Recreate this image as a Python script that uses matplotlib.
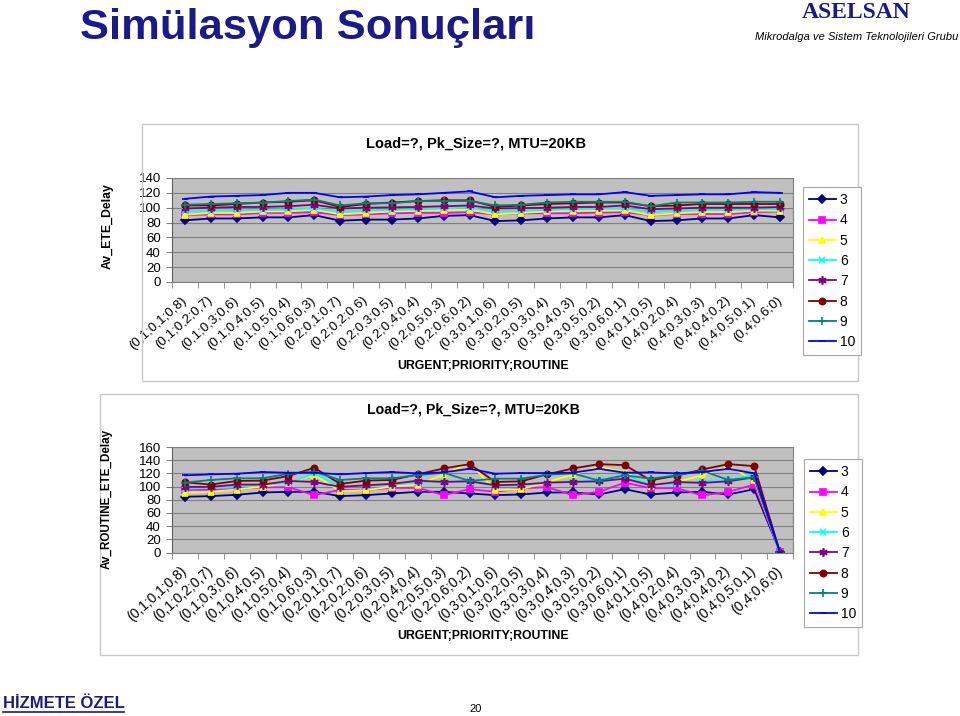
import matplotlib
matplotlib.use("Agg")
import matplotlib.pyplot as plt
from matplotlib.lines import Line2D
from matplotlib.patches import Rectangle

plt.rcParams['font.family'] = ['Liberation Sans', 'DejaVu Sans']

W, H = 960, 716

categories = ["(0,1;0,1;0,8)", "(0,1;0,2;0,7)", "(0,1;0,3;0,6)", "(0,1;0,4;0,5)",
              "(0,1;0,5;0,4)", "(0,1;0,6;0,3)", "(0,2;0,1;0,7)", "(0,2;0,2;0,6)",
              "(0,2;0,3;0,5)", "(0,2;0,4;0,4)", "(0,2;0,5;0,3)", "(0,2;0,6;0,2)",
              "(0,3;0,1;0,6)", "(0,3;0,2;0,5)", "(0,3;0,3;0,4)", "(0,3;0,4;0,3)",
              "(0,3;0,5;0,2)", "(0,3;0,6;0,1)", "(0,4;0,1;0,5)", "(0,4;0,2;0,4)",
              "(0,4;0,3;0,3)", "(0,4;0,4;0,2)", "(0,4;0,5;0,1)", "(0,4;0,6;0)"]

series_names = ["3", "4", "5", "6", "7", "8", "9", "10"]

# Top chart: Av_ETE_Delay
top_s3 = [83, 85.5, 85.5, 87, 87, 90, 82.5, 84, 84, 85.5, 89, 90, 82, 83, 85.5, 87, 87, 90, 82, 83, 85.5, 85.5, 90, 87]
top_s4 = [90, 91, 91, 93, 93, 94, 90, 91, 92.5, 93, 93, 94, 91, 92.5, 92.5, 92.5, 93.5, 94, 90, 91.5, 91.5, 91.5, 94, 95]
top_s5 = [90.5, 93, 93, 95, 95, 97.5, 91, 93, 95, 96, 96.5, 97.5, 91, 93, 95, 96, 96, 96.5, 90, 92.5, 94, 94, 96, 96]
top_s6 = [95, 96, 96.5, 97, 98, 99, 95, 96.5, 97, 98, 99, 100, 95, 96, 97, 98, 99, 99, 95, 96, 97, 97, 98, 98]
top_s7 = [99, 100, 101, 101, 102, 104, 99, 100, 100.5, 101, 102, 103, 99, 99.5, 100, 101, 101, 103, 98, 99, 100, 100, 100, 101]
top_s8 = [103, 103, 105, 107, 108, 110, 101, 105, 107, 109, 110, 110, 101, 103, 105, 106, 107, 107, 102, 103, 105, 105, 105, 105]
top_s9 = [104, 105, 106, 107, 109, 111, 103, 106, 106, 109, 109, 109, 103, 104, 107, 108, 108, 108, 102, 107, 107, 107, 108, 108]
top_s10 = [112, 115, 116, 117, 120, 120, 114, 115, 117, 118, 120, 122, 114, 116, 117, 118, 118, 121, 116, 117, 118, 118, 121, 120]

# Bottom chart: Av_ROUTINE_ETE_Delay
bot_s3 = [84.5, 85.5, 87.5, 91, 92, 92, 85.5, 87, 89.5, 92, 92, 89.5, 87, 88, 91, 91, 88, 96, 88, 91, 92, 88, 96, 1]
bot_s4 = [95, 95, 96, 99, 99, 87, 95, 95, 98, 98, 87, 96, 92, 97.5, 99, 87, 92, 106, 97.5, 97.5, 86.5, 92, 103, 1]
bot_s5 = [90.5, 92, 95.5, 100, 105, 118, 93, 94.5, 100, 103, 118, 136, 94.5, 96, 107, 118, 130, 122, 101, 107, 117, 131, 110, 0]
bot_s6 = [97, 98, 100, 103, 105, 120, 100, 101, 103, 106, 108, 108, 101, 102, 106, 108, 110, 118, 103, 104, 108, 110, 118, 0]
bot_s7 = [99.5, 99.5, 103, 103, 108.5, 107, 99.5, 102, 104, 109, 107, 108, 102, 103, 106, 107, 108, 112, 102, 107, 105.5, 108, 114, 0]
bot_s8 = [106.5, 103, 108.5, 109, 116, 128.5, 104, 109, 110, 118.5, 127.5, 134, 107, 108, 118.5, 127.5, 134, 132.5, 109.5, 116.5, 126, 134, 131, 0]
bot_s9 = [106, 110, 112.5, 112.5, 119.5, 122.5, 110, 112.5, 112.5, 117.5, 121, 108.5, 112, 112, 118, 120, 109, 117, 112, 117, 124, 110, 114, 0]
bot_s10 = [117, 118.5, 119.5, 122, 121, 121, 118.5, 120.5, 122, 120, 121.5, 127, 119.5, 120.5, 120.5, 121, 127, 121, 121.5, 120, 122, 127, 120, 0]

top_data = [top_s3, top_s4, top_s5, top_s6, top_s7, top_s8, top_s9, top_s10]
bot_data = [bot_s3, bot_s4, bot_s5, bot_s6, bot_s7, bot_s8, bot_s9, bot_s10]

colors = ['#000080', '#FF00FF', '#FFFF00', '#00FFFF', '#800080', '#800000', '#008080', '#0000FF']
markers = ['D', 's', '^', 'x', (6, 2, 0), 'o', '+', '_']
msizes = [4.5, 4.5, 5, 5, 6, 4.5, 6, 5]

NAVY = '#1a1a8a'

fig = plt.figure(figsize=(W / 100, H / 100), dpi=100)
fig.patch.set_facecolor('white')


def fx(px):
    return px / W


def fy(py):
    return 1 - py / H


def rect(x0, y0, x1, y1):
    return [fx(x0), fy(y1), fx(x1) - fx(x0), fy(y0) - fy(y1)]


# chart-area frames
for (x0, y0, x1, y1) in [(142, 124, 858, 381), (100, 394, 858, 655)]:
    fig.patches.append(Rectangle((fx(x0), fy(y1)), fx(x1) - fx(x0), fy(y0) - fy(y1),
                                 transform=fig.transFigure, fill=False,
                                 edgecolor='#c8c8c8', linewidth=1.0))


def make_chart(axrect, data, ymax, legend_box, title_xy, title_fs, xlabel_xy,
               ylabel, ylabel_xy, ylabel_fs, cat_fs):
    ax = fig.add_axes(axrect)
    ax.set_facecolor('#C0C0C0')
    x = list(range(len(categories)))
    handles = []
    for vals, name, c, m, ms in zip(data, series_names, colors, markers, msizes):
        h, = ax.plot(x, vals, color=c, marker=m, markersize=ms, markerfacecolor=c,
                     markeredgecolor=c, markeredgewidth=1.2, linewidth=1.3, label=name)
        handles.append(h)
    ax.set_xlim(-0.5, len(categories) - 0.5)
    ax.set_ylim(0, ymax)
    ax.set_yticks(range(0, ymax + 1, 20))
    ax.yaxis.grid(True, color='#808080', linewidth=0.8)
    ax.set_axisbelow(True)
    ax.tick_params(axis='y', labelsize=9.5, length=4, color='#808080', pad=4)
    ax.set_xticks(x)
    ax.set_xticklabels(categories, rotation=42, ha='right', va='center',
                       rotation_mode='anchor', fontsize=cat_fs)
    ax.tick_params(axis='x', which='major', length=0, pad=12)
    ax.set_xticks([i - 0.5 for i in range(len(categories) + 1)], minor=True)
    ax.tick_params(axis='x', which='minor', length=4, color='#808080')
    for s in ax.spines.values():
        s.set_color('#808080')
        s.set_linewidth(0.8)
    ax.spines['left'].set_color('#606060')
    # legend
    lx0, ly0, lx1, ly1 = legend_box
    leg = fig.legend(handles=handles, loc='upper left',
                     bbox_to_anchor=(fx(lx0), fy(ly0)), borderaxespad=0,
                     fontsize=10, labelspacing=0.45, handlelength=1.9,
                     handletextpad=0.3, borderpad=0.45, frameon=True, fancybox=False)
    leg.get_frame().set_edgecolor('#909090')
    leg.get_frame().set_linewidth(0.8)
    fig.text(fx(title_xy[0]), fy(title_xy[1]), "Load=?, Pk_Size=?, MTU=20KB",
             ha='center', va='center', fontsize=title_fs, fontweight='bold')
    fig.text(fx(xlabel_xy[0]), fy(xlabel_xy[1]), "URGENT;PRIORITY;ROUTINE",
             ha='center', va='center', fontsize=8.8, fontweight='bold')
    fig.text(fx(ylabel_xy[0]), fy(ylabel_xy[1]), ylabel, rotation=90,
             ha='center', va='center', fontsize=ylabel_fs, fontweight='bold')
    return ax


make_chart(rect(172, 178, 793, 282), top_data, 140, (803, 187, 859, 353),
           (476, 143), 10.5, (483, 366), "Av_ETE_Delay", (108, 226), 8.8, 9.6)
make_chart(rect(172, 447, 793, 552.5), bot_data, 160, (804, 459, 859, 623),
           (473, 410), 10.2, (483, 636), "Av_ROUTINE_ETE_Delay", (107, 499), 8.4, 10.0)

# Slide header / footer
fig.text(fx(80), fy(28), "Simülasyon Sonuçları", ha='left', va='center',
         fontsize=31.3, fontweight='bold', color=NAVY)
fig.text(fx(856), fy(13), "ASELSAN", ha='center', va='center', fontsize=17,
         fontweight='bold', color=NAVY, family=['Liberation Serif', 'DejaVu Serif'])
fig.text(fx(958), fy(37), "Mikrodalga ve Sistem Teknolojileri Grubu", ha='right',
         va='center', fontsize=8, style='italic', color='black')
fig.text(fx(3), fy(703), "HİZMETE ÖZEL", ha='left', va='center', fontsize=12,
         fontweight='bold', color=NAVY)
fig.lines.append(Line2D([fx(3), fx(124)], [fy(712), fy(712)], transform=fig.transFigure,
                        color=NAVY, linewidth=1.2))
fig.text(fx(476), fy(709), "20", ha='center', va='center', fontsize=8, color='black')

fig.savefig("out.png", dpi=100, facecolor='white')
